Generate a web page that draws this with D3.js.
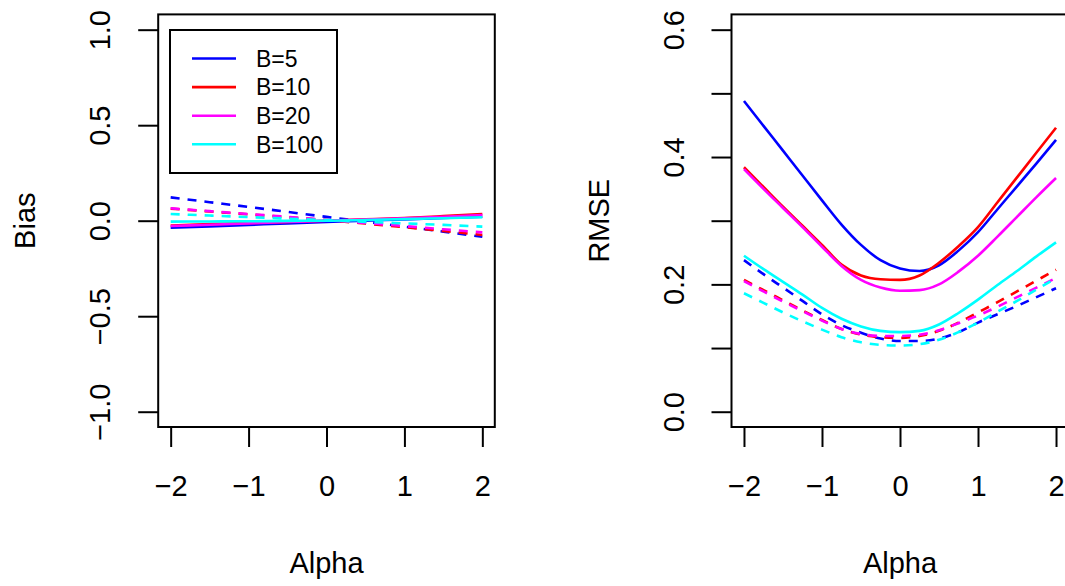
<!DOCTYPE html>
<html>
<head>
<meta charset="utf-8">
<script src="https://cdn.jsdelivr.net/npm/d3@7"></script>
<style>
    body { margin: 0; background: #fff; }
    text { font-family: "Liberation Sans", Arial, sans-serif; fill: #000; }
</style>
</head>
<body>
<div id="chart"></div>
<script>
// alpha grid for each panel
const alphaBias = [-2, -1.5, -1, -0.5, 0, 0.5, 1, 1.5, 2];
const alphaRmse = [-2, -1.75, -1.5, -1.25, -1, -0.75, -0.5, -0.25, 0, 0.25, 0.5, 0.75, 1, 1.25, 1.5, 1.75, 2];

const seriesNames = ["B=5", "B=10", "B=20", "B=100"];
const seriesColors = ["#0000ff", "#ff0000", "#ff00ff", "#00ffff"];

// rows: B=5, B=10, B=20, B=100
const biasSolid = [
    [-0.037, -0.030, -0.022, -0.014, -0.007, 0.000, 0.007, 0.014, 0.021],
    [-0.025, -0.018, -0.012, -0.006, 0.000, 0.007, 0.014, 0.024, 0.035],
    [-0.028, -0.021, -0.014, -0.007, 0.000, 0.006, 0.013, 0.021, 0.030],
    [-0.005, -0.004, -0.003, -0.001, 0.000, 0.004, 0.008, 0.013, 0.018]
];
const biasDashed = [
    [0.122, 0.097, 0.072, 0.046, 0.020, -0.005, -0.031, -0.057, -0.084],
    [0.063, 0.048, 0.033, 0.018, 0.003, -0.015, -0.034, -0.054, -0.075],
    [0.065, 0.050, 0.035, 0.020, 0.004, -0.012, -0.028, -0.045, -0.061],
    [0.035, 0.027, 0.019, 0.011, 0.003, -0.006, -0.014, -0.022, -0.031]
];
const rmseSolid = [
    [0.488, 0.449, 0.410, 0.371, 0.332, 0.294, 0.262, 0.238, 0.225, 0.221, 0.230, 0.253, 0.282, 0.318, 0.354, 0.390, 0.427],
    [0.384, 0.353, 0.322, 0.292, 0.262, 0.231, 0.214, 0.208, 0.207, 0.214, 0.234, 0.260, 0.290, 0.329, 0.368, 0.407, 0.446],
    [0.381, 0.350, 0.320, 0.290, 0.259, 0.229, 0.207, 0.195, 0.190, 0.191, 0.200, 0.220, 0.245, 0.275, 0.306, 0.337, 0.367],
    [0.245, 0.224, 0.204, 0.184, 0.163, 0.146, 0.134, 0.127, 0.125, 0.127, 0.137, 0.155, 0.176, 0.199, 0.221, 0.244, 0.266]
];
const rmseDashed = [
    [0.238, 0.216, 0.195, 0.174, 0.153, 0.136, 0.124, 0.115, 0.111, 0.111, 0.115, 0.125, 0.140, 0.153, 0.166, 0.180, 0.194],
    [0.207, 0.191, 0.175, 0.159, 0.144, 0.130, 0.121, 0.117, 0.116, 0.119, 0.127, 0.140, 0.156, 0.172, 0.189, 0.206, 0.223],
    [0.205, 0.189, 0.173, 0.158, 0.143, 0.130, 0.122, 0.119, 0.119, 0.121, 0.128, 0.139, 0.151, 0.165, 0.180, 0.195, 0.210],
    [0.186, 0.171, 0.156, 0.142, 0.129, 0.117, 0.109, 0.105, 0.104, 0.106, 0.113, 0.125, 0.140, 0.157, 0.174, 0.192, 0.210]
];

const xTicks = [-2, -1, 0, 1, 2];
const biasTicks = [-1, -0.5, 0, 0.5, 1];
const rmseTicks = [0, 0.1, 0.2, 0.3, 0.4, 0.5, 0.6];
const rmseLabelled = [0, 0.2, 0.4, 0.6];

const svg = d3.select("#chart").append("svg")
    .attr("width", 1065)
    .attr("height", 586);

function drawPanel(opts) {
    let g = svg.append("g");

    let x = d3.scaleLinear().domain([-2.16, 2.16]).range(opts.xRange);
    let y = d3.scaleLinear().domain(opts.yDomain).range([427, 14.4]);

    // series lines, solid then dashed for each B
    let line = d3.line().curve(d3.curveMonotoneX);
    for (let i = 0; i < seriesNames.length; i++) {
        [[opts.solid[i], null], [opts.dashed[i], "9,8"]].forEach(([vals, dash]) => {
            g.append("path")
                .datum(opts.alpha.map((a, k) => [x(a), y(vals[k])]))
                .attr("d", line)
                .attr("fill", "none")
                .attr("stroke", seriesColors[i])
                .attr("stroke-width", 2.6)
                .attr("stroke-dasharray", dash);
        });
    }

    // box
    g.append("rect")
        .attr("x", opts.xRange[0])
        .attr("y", 14.4)
        .attr("width", opts.xRange[1] - opts.xRange[0])
        .attr("height", 427 - 14.4)
        .attr("fill", "none")
        .attr("stroke", "#000")
        .attr("stroke-width", 2);

    // x axis
    let xAxis = d3.axisBottom(x)
        .tickValues(xTicks)
        .tickSize(20)
        .tickPadding(0)
        .tickFormat(d3.format("d"));
    let gx = g.append("g")
        .attr("transform", "translate(0,427)")
        .call(xAxis);
    gx.select(".domain").remove();
    gx.selectAll("line").attr("stroke-width", 2);
    gx.selectAll("text")
        .attr("y", 48)
        .attr("dy", "0.72em")
        .style("font-size", "29px");

    // y axis, labels parallel to the axis
    let yAxis = d3.axisLeft(y)
        .tickValues(opts.yTicks)
        .tickSize(20)
        .tickFormat(opts.yFormat);
    let gy = g.append("g")
        .attr("transform", "translate(" + opts.xRange[0] + ",0)")
        .call(yAxis);
    gy.select(".domain").remove();
    gy.selectAll("line").attr("stroke-width", 2);
    gy.selectAll("text")
        .attr("x", null)
        .attr("dy", null)
        .attr("text-anchor", "middle")
        .attr("transform", "translate(-48,0) rotate(-90)")
        .style("font-size", "29px");

    // axis titles
    g.append("text")
        .attr("x", (x(-2) + x(2)) / 2)
        .attr("y", 573)
        .attr("text-anchor", "middle")
        .style("font-size", "29px")
        .text("Alpha");
    g.append("text")
        .attr("transform", "translate(" + (opts.xRange[0] - 123) + "," + (y.range()[0] + y.range()[1]) / 2 + ") rotate(-90)")
        .attr("text-anchor", "middle")
        .style("font-size", "29px")
        .text(opts.yTitle);

    return {g: g, x: x, y: y};
}

let left = drawPanel({
    xRange: [158.2, 494.8],
    yDomain: [-1.08, 1.08],
    yTicks: biasTicks,
    yFormat: d3.format(".1f"),
    yTitle: "Bias",
    alpha: alphaBias,
    solid: biasSolid,
    dashed: biasDashed
});

drawPanel({
    xRange: [731.5, 1068.5],
    yDomain: [-0.024, 0.624],
    yTicks: rmseTicks,
    yFormat: d => rmseLabelled.some(v => Math.abs(v - d) < 1e-9) ? d3.format(".1f")(d) : "",
    yTitle: "RMSE",
    alpha: alphaRmse,
    solid: rmseSolid,
    dashed: rmseDashed
});

// legend in the bias panel
let legend = left.g.append("g").attr("transform", "translate(170,30)");
legend.append("rect")
    .attr("width", 167)
    .attr("height", 143)
    .attr("fill", "#fff")
    .attr("stroke", "#000")
    .attr("stroke-width", 2);
seriesNames.forEach((name, i) => {
    let row = legend.append("g").attr("transform", "translate(0," + (28.5 + i * 28.6) + ")");
    row.append("line")
        .attr("x1", 22).attr("x2", 66)
        .attr("stroke", seriesColors[i])
        .attr("stroke-width", 2.6);
    row.append("text")
        .attr("x", 86)
        .attr("dy", "0.36em")
        .style("font-size", "23px")
        .text(name);
});
</script>
</body>
</html>
